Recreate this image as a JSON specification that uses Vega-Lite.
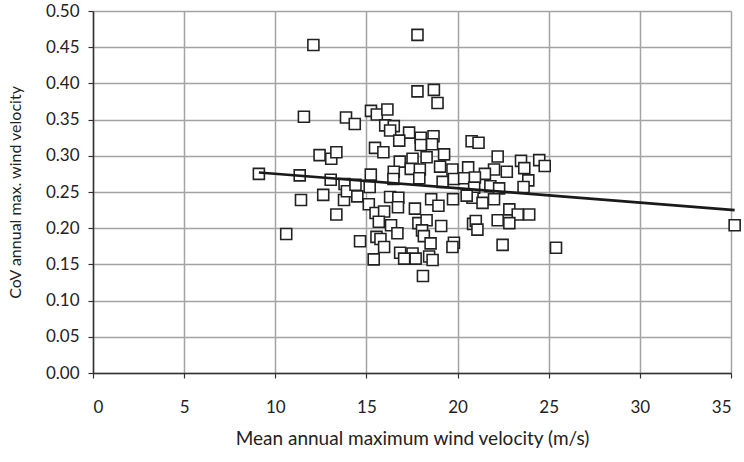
{
  "$schema": "https://vega.github.io/schema/vega-lite/v6.json",
  "width": 638,
  "height": 362,
  "autosize": "none",
  "padding": {"left": 93, "top": 11, "right": 13, "bottom": 89},
  "background": "white",
  "config": {
    "view": {"stroke": null},
    "font": "Lato",
    "axis": {
      "gridColor": "#a3a3a3",
      "gridWidth": 1.5,
      "domainColor": "#333333",
      "domainWidth": 1.5,
      "tickColor": "#333333",
      "tickWidth": 1.2,
      "labelFont": "Lato",
      "labelFontSize": 17,
      "labelColor": "#222222",
      "titleFont": "Lato",
      "titleFontSize": 16,
      "titleFontWeight": "normal",
      "titleColor": "#222222"
    }
  },
  "datasets": {
    "pts": [
      {"v": 9.1, "c": 0.275}, {"v": 10.6, "c": 0.192}, {"v": 11.34, "c": 0.273}, {"v": 11.41, "c": 0.239},
      {"v": 11.57, "c": 0.354}, {"v": 12.09, "c": 0.453}, {"v": 12.43, "c": 0.301}, {"v": 12.63, "c": 0.246},
      {"v": 13.07, "c": 0.296}, {"v": 13.04, "c": 0.267}, {"v": 13.35, "c": 0.305}, {"v": 13.35, "c": 0.219},
      {"v": 13.8, "c": 0.261}, {"v": 13.77, "c": 0.239}, {"v": 13.88, "c": 0.353}, {"v": 13.93, "c": 0.251},
      {"v": 14.36, "c": 0.344}, {"v": 14.4, "c": 0.26}, {"v": 14.5, "c": 0.244}, {"v": 14.65, "c": 0.182},
      {"v": 15.25, "c": 0.362}, {"v": 15.57, "c": 0.357}, {"v": 16.15, "c": 0.364}, {"v": 16.03, "c": 0.342},
      {"v": 16.5, "c": 0.341}, {"v": 16.3, "c": 0.335}, {"v": 17.34, "c": 0.332}, {"v": 16.8, "c": 0.321},
      {"v": 17.98, "c": 0.325}, {"v": 18.68, "c": 0.327}, {"v": 18.6, "c": 0.316}, {"v": 17.98, "c": 0.315},
      {"v": 15.47, "c": 0.311}, {"v": 15.93, "c": 0.305}, {"v": 19.26, "c": 0.302}, {"v": 18.3, "c": 0.298},
      {"v": 17.53, "c": 0.296}, {"v": 16.83, "c": 0.292}, {"v": 17.43, "c": 0.282}, {"v": 17.93, "c": 0.281},
      {"v": 19.04, "c": 0.285}, {"v": 19.72, "c": 0.281}, {"v": 15.24, "c": 0.274}, {"v": 16.5, "c": 0.278},
      {"v": 16.48, "c": 0.268}, {"v": 17.9, "c": 0.269}, {"v": 19.18, "c": 0.264}, {"v": 19.8, "c": 0.268},
      {"v": 15.18, "c": 0.257}, {"v": 16.3, "c": 0.243}, {"v": 16.75, "c": 0.242}, {"v": 18.55, "c": 0.24},
      {"v": 19.75, "c": 0.24}, {"v": 17.8, "c": 0.389}, {"v": 18.7, "c": 0.391}, {"v": 18.9, "c": 0.373},
      {"v": 17.8, "c": 0.467},
      {"v": 15.13, "c": 0.233}, {"v": 15.5, "c": 0.221}, {"v": 15.97, "c": 0.223}, {"v": 15.68, "c": 0.209},
      {"v": 16.35, "c": 0.204}, {"v": 16.7, "c": 0.193}, {"v": 15.55, "c": 0.188}, {"v": 15.77, "c": 0.185},
      {"v": 15.97, "c": 0.174}, {"v": 15.4, "c": 0.157}, {"v": 16.85, "c": 0.166}, {"v": 17.53, "c": 0.165},
      {"v": 17.07, "c": 0.158}, {"v": 17.7, "c": 0.158}, {"v": 18.44, "c": 0.161}, {"v": 18.63, "c": 0.156},
      {"v": 18.1, "c": 0.134}, {"v": 16.73, "c": 0.229}, {"v": 17.66, "c": 0.227}, {"v": 17.85, "c": 0.207},
      {"v": 18.3, "c": 0.211}, {"v": 18.05, "c": 0.197}, {"v": 18.15, "c": 0.189}, {"v": 18.52, "c": 0.179},
      {"v": 18.95, "c": 0.231}, {"v": 19.1, "c": 0.203}, {"v": 19.8, "c": 0.18}, {"v": 19.72, "c": 0.174},
      {"v": 20.77, "c": 0.32}, {"v": 21.15, "c": 0.318}, {"v": 22.2, "c": 0.299}, {"v": 23.48, "c": 0.293},
      {"v": 24.48, "c": 0.294}, {"v": 24.78, "c": 0.286}, {"v": 23.66, "c": 0.283}, {"v": 22.7, "c": 0.278},
      {"v": 22.0, "c": 0.281}, {"v": 21.5, "c": 0.275}, {"v": 20.58, "c": 0.284}, {"v": 20.36, "c": 0.269},
      {"v": 20.95, "c": 0.27}, {"v": 21.8, "c": 0.258}, {"v": 23.88, "c": 0.266}, {"v": 23.62, "c": 0.257},
      {"v": 22.28, "c": 0.255}, {"v": 20.91, "c": 0.256}, {"v": 20.82, "c": 0.242}, {"v": 20.5, "c": 0.245},
      {"v": 21.37, "c": 0.235}, {"v": 22.0, "c": 0.24}, {"v": 22.84, "c": 0.226}, {"v": 23.3, "c": 0.219},
      {"v": 23.93, "c": 0.219}, {"v": 22.2, "c": 0.211}, {"v": 22.84, "c": 0.207}, {"v": 20.85, "c": 0.206},
      {"v": 21.0, "c": 0.21}, {"v": 21.09, "c": 0.198}, {"v": 22.47, "c": 0.177}, {"v": 25.4, "c": 0.173},
      {"v": 35.2, "c": 0.204}
    ],
    "trend": [
      {"v": 9.1, "c": 0.277},
      {"v": 35.2, "c": 0.225}
    ]
  },
  "encoding": {
    "x": {
      "field": "v", "type": "quantitative",
      "scale": {"domain": [0, 35], "nice": false, "zero": true},
      "axis": {"values": [0, 5, 10, 15, 20, 25, 30, 35], "title": "Mean annual maximum  wind velocity (m/s)",
               "labelPadding": 21, "tickSize": 5, "titlePadding": 14, "titleFontSize": 19, "grid": true}
    },
    "y": {
      "field": "c", "type": "quantitative",
      "scale": {"domain": [0, 0.5], "nice": false},
      "axis": {"values": [0, 0.05, 0.1, 0.15, 0.2, 0.25, 0.3, 0.35, 0.4, 0.45, 0.5], "format": ".2f",
               "title": "CoV annual max. wind velocity", "labelPadding": 9, "tickSize": 5, "titlePadding": 22, "grid": true}
    }
  },
  "layer": [
    {
      "data": {"name": "pts"},
      "mark": {"type": "point", "shape": "square", "size": 121, "filled": false, "fill": "white", "fillOpacity": 1, "stroke": "#222222", "strokeWidth": 1.6, "opacity": 1, "clip": false}
    },
    {
      "data": {"name": "trend"},
      "mark": {"type": "line", "color": "#1a1a1a", "strokeWidth": 2.6, "clip": false}
    }
  ]
}
